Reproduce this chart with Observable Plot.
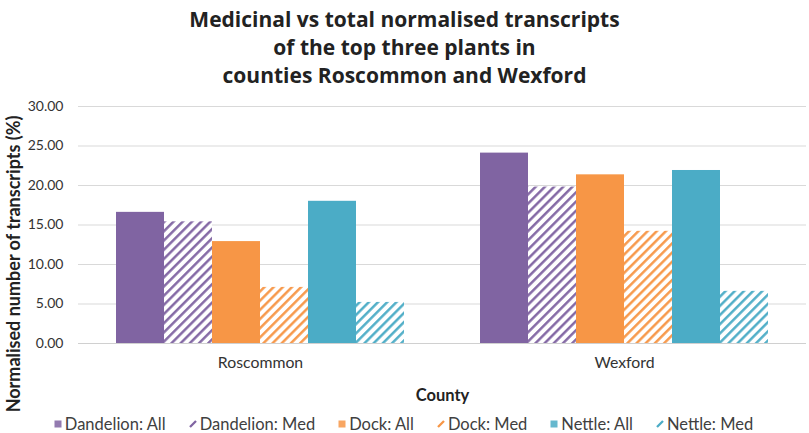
<!DOCTYPE html>
<html>
<head>
<meta charset="utf-8">
<script src="https://cdn.jsdelivr.net/npm/d3@7"></script>
<script src="https://cdn.jsdelivr.net/npm/@observablehq/plot@0.6"></script>
<style>
  body { margin: 0; background: #fff; width: 809px; height: 433px; position: relative; font-family: Lato, "Open Sans", sans-serif; overflow: hidden; }
  #title { font-family: "Open Sans", sans-serif; text-align: center; font-weight: 700; font-size: 21px; line-height: 28px; padding-top: 5px; color: #222; height: 85px; }
  #chart { position: absolute; left: 0; top: 90px; }
  #legend { position: absolute; left: 0; top: 414px; width: 807px; display: flex; justify-content: center; gap: 23px; font-size: 16.5px; color: #404040; }
  .item { display: flex; align-items: center; }
</style>
</head>
<body>
<div id="title">Medicinal vs total normalised transcripts<br>of the top three plants in<br>counties Roscommon and Wexford</div>
<div id="chart"></div>
<div id="legend"></div>
<script>
const counties = ["Roscommon", "Wexford"];
const series = ["Dandelion: All", "Dandelion: Med", "Dock: All", "Dock: Med", "Nettle: All", "Nettle: Med"];
const roscommonValues = [16.6, 15.4, 12.9, 7.1, 18.0, 5.2];
const wexfordValues = [24.1, 19.8, 21.35, 14.2, 21.9, 6.6];
const seriesColors = ["#8064A2", "#8064A2", "#F79646", "#F79646", "#4BACC6", "#4BACC6"];
const hatched = [false, true, false, true, false, true];
const yTicks = [0, 5, 10, 15, 20, 25, 30];
const yTitle = "Normalised number of transcripts (%)";
const xTitle = "County";

const valuesByCounty = [roscommonValues, wexfordValues];
const data = [];
counties.forEach((c, ci) => series.forEach((s, si) => data.push({
  county: c, series: s, value: valuesByCounty[ci][si],
  fill: hatched[si] ? `url(#hatch-${si})` : seriesColors[si]
})));

const chart = Plot.plot({
  width: 809,
  height: 343,
  marginLeft: 78,
  marginRight: 3,
  marginTop: 16,
  marginBottom: 90,
  style: { fontFamily: "Lato, sans-serif", fontSize: "14px", color: "#333", background: "white", overflow: "visible" },
  fx: { domain: counties, padding: 0, label: null },
  x: { domain: series, paddingInner: 0, paddingOuter: 0.74, axis: null },
  y: { domain: [0, 30] },
  color: { type: "identity" },
  marks: [
    Plot.gridY(yTicks, { stroke: "#d9d9d9", strokeOpacity: 1 }),
    Plot.barY(data, { fx: "county", x: "series", y: "value", fill: "fill" }),
    Plot.ruleY([0], { stroke: "#d0d0d0" }),
    Plot.axisY(yTicks, { tickSize: 0, tickPadding: 15, tickFormat: d3.format(".2f"), label: null, fontSize: 14 }),
    Plot.axisFx({ anchor: "bottom", tickSize: 0, tickPadding: 13, label: xTitle, labelAnchor: "center", labelArrow: "none", labelOffset: 57, fontSize: 15.8 })
  ]
});

// hatch patterns
const svg = d3.select(chart);
const defs = svg.insert("defs", ":first-child");
series.forEach((s, si) => {
  if (!hatched[si]) return;
  const p = defs.append("pattern").attr("id", `hatch-${si}`).attr("patternUnits", "userSpaceOnUse")
    .attr("width", 6.5).attr("height", 6.5).attr("patternTransform", "rotate(45)");
  p.append("rect").attr("width", 6.5).attr("height", 6.5).attr("fill", "white");
  p.append("line").attr("x1", 1.3).attr("y1", 0).attr("x2", 1.3).attr("y2", 6.5).attr("stroke", seriesColors[si]).attr("stroke-width", 2.4);
});
// axis titles
svg.selectAll("[aria-label='fx-axis label'], [aria-label='fx-axis label'] text")
  .attr("font-weight", "bold").attr("fill", "#222").attr("font-size", 16.5);
svg.append("text")
  .attr("transform", "translate(13,174) rotate(-90)")
  .attr("text-anchor", "middle")
  .attr("dominant-baseline", "central")
  .attr("font-family", "Lato, sans-serif")
  .attr("font-weight", "bold")
  .attr("font-size", 18)
  .attr("fill", "#222")
  .text(yTitle);

document.getElementById("chart").appendChild(chart);

// legend
const legend = d3.select("#legend");
series.forEach((s, si) => {
  const it = legend.append("div").attr("class", "item");
  const sw = it.append("svg").attr("width", 8).attr("height", 8).style("margin-right", "3px");
  if (hatched[si]) {
    sw.append("line").attr("x1", 1).attr("y1", 7).attr("x2", 7).attr("y2", 1).attr("stroke", seriesColors[si]).attr("stroke-width", 2.3);
  } else {
    sw.append("rect").attr("x", 0.5).attr("y", 0.5).attr("width", 7).attr("height", 7).attr("fill", seriesColors[si]).attr("fill-opacity", 0.85);
  }
  it.append("span").text(s);
});
</script>
</body>
</html>
